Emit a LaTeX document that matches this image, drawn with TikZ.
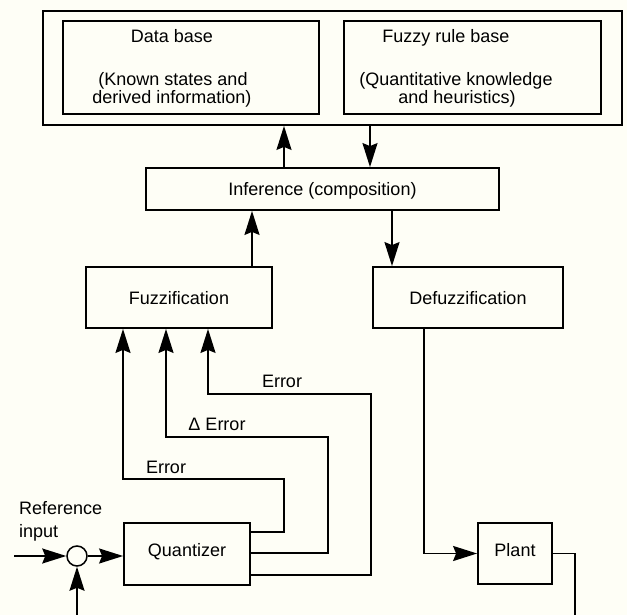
\documentclass[tikz,border=0pt]{standalone}
\usepackage{fontspec}
\setmainfont{Liberation Sans}
\usetikzlibrary{arrows.meta}
\definecolor{bgc}{RGB}{254,254,246}
\begin{document}
\begin{tikzpicture}[x=1pt,y=-1pt,
  every node/.style={font=\fontsize{18}{19}\selectfont},
  box/.style={draw, line width=1.8pt, inner sep=0pt, text height=13pt, text depth=0pt},
  ln/.style={line width=1.8pt, line join=miter},
  arr/.style={ln, -{Stealth[length=24pt,width=15pt,inset=3pt]}},
  lbl/.style={anchor=base, inner sep=0pt}]
\fill[bgc] (0,0) rectangle (627,615);
\useasboundingbox (0,0) rectangle (627,615);

% top knowledge base
\node[box, minimum width=579pt, minimum height=114pt] (outer) at (332.5,68) {};
\node[box, minimum width=256pt, minimum height=93pt] (db) at (191,67.5) {};
\node[box, minimum width=257pt, minimum height=93pt] (rb) at (472.5,67.5) {};
\node[lbl] (dbt1) at (172,42.5) {Data base};
\node[lbl] (dbt2) at (173,85.5) {(Known states and};
\node[lbl] (dbt3) at (172,103.5) {derived information)};
\node[lbl] (rbt1) at (446,42.5) {Fuzzy rule base};
\node[lbl] (rbt2) at (456,85.5) {(Quantitative knowledge};
\node[lbl] (rbt3) at (457,103.5) {and heuristics)};

% blocks
\node[box, minimum width=353pt, minimum height=42pt] (inf) at (322.5,189) {Inference (composition)};
\node[box, minimum width=186pt, minimum height=61pt] (fuz) at (179,297.5) {Fuzzification};
\node[box, minimum width=190pt, minimum height=61pt] (defuz) at (468,297.5) {Defuzzification};
\node[box, minimum width=126pt, minimum height=62pt, text depth=8pt] (quant) at (187,554) {Quantizer};
\node[box, minimum width=74pt, minimum height=61pt, text depth=8pt] (plant) at (515,553.5) {Plant};
\node[draw, circle, line width=1.5pt, minimum size=20pt, inner sep=0pt] (sum) at (77,556) {};

% helper coordinates
\coordinate (cA) at (284,0);
\coordinate (cB) at (370,0);
\coordinate (cC) at (252,0);
\coordinate (cD) at (392,0);
\coordinate (cE) at (424,0);
\coordinate (fbR) at (575,615);
\coordinate (fbL) at (77,615);
\coordinate (inp) at (14,556);
\coordinate (e1) at (284,479);
\coordinate (e2) at (328,437);
\coordinate (e3) at (371,394);
\coordinate (a1) at (123,0);
\coordinate (a2) at (166,0);
\coordinate (a3) at (208,0);
\coordinate (y1) at (0,532);
\coordinate (y2) at (0,553);
\coordinate (y3) at (0,575);

% connectors
\draw[arr] (inf.north -| cA) -- (outer.south -| cA);
\draw[arr] (outer.south -| cB) -- (inf.north -| cB);
\draw[arr] (fuz.north -| cC) -- (inf.south -| cC);
\draw[arr] (inf.south -| cD) -- (defuz.north -| cD);
\draw[arr] (defuz.south -| cE) |- (plant.west);
\draw[ln] (plant.east) -| (fbR);
\draw[arr] (fbL) -- (sum.south);
\draw[arr] (inp) -- (sum.west);
\draw[arr] (sum.east) -- (sum.east -| quant.west);
\draw[arr] (quant.east |- y1) -| (e1) -| (fuz.south -| a1);
\draw[arr] (quant.east |- y2) -| (e2) -| (fuz.south -| a2);
\draw[arr] (quant.east |- y3) -| (e3) -| (fuz.south -| a3);

% labels
\node[lbl] (l1) at (166,473.5) {Error};
\node[lbl] (l2) at (217,430.5) {Δ Error};
\node[lbl] (l3) at (282,387.5) {Error};
\node[lbl, anchor=base west] (ref1) at (19,514.5) {Reference};
\node[lbl, anchor=base west] (ref2) at (19,537) {input};
\end{tikzpicture}
\end{document}
